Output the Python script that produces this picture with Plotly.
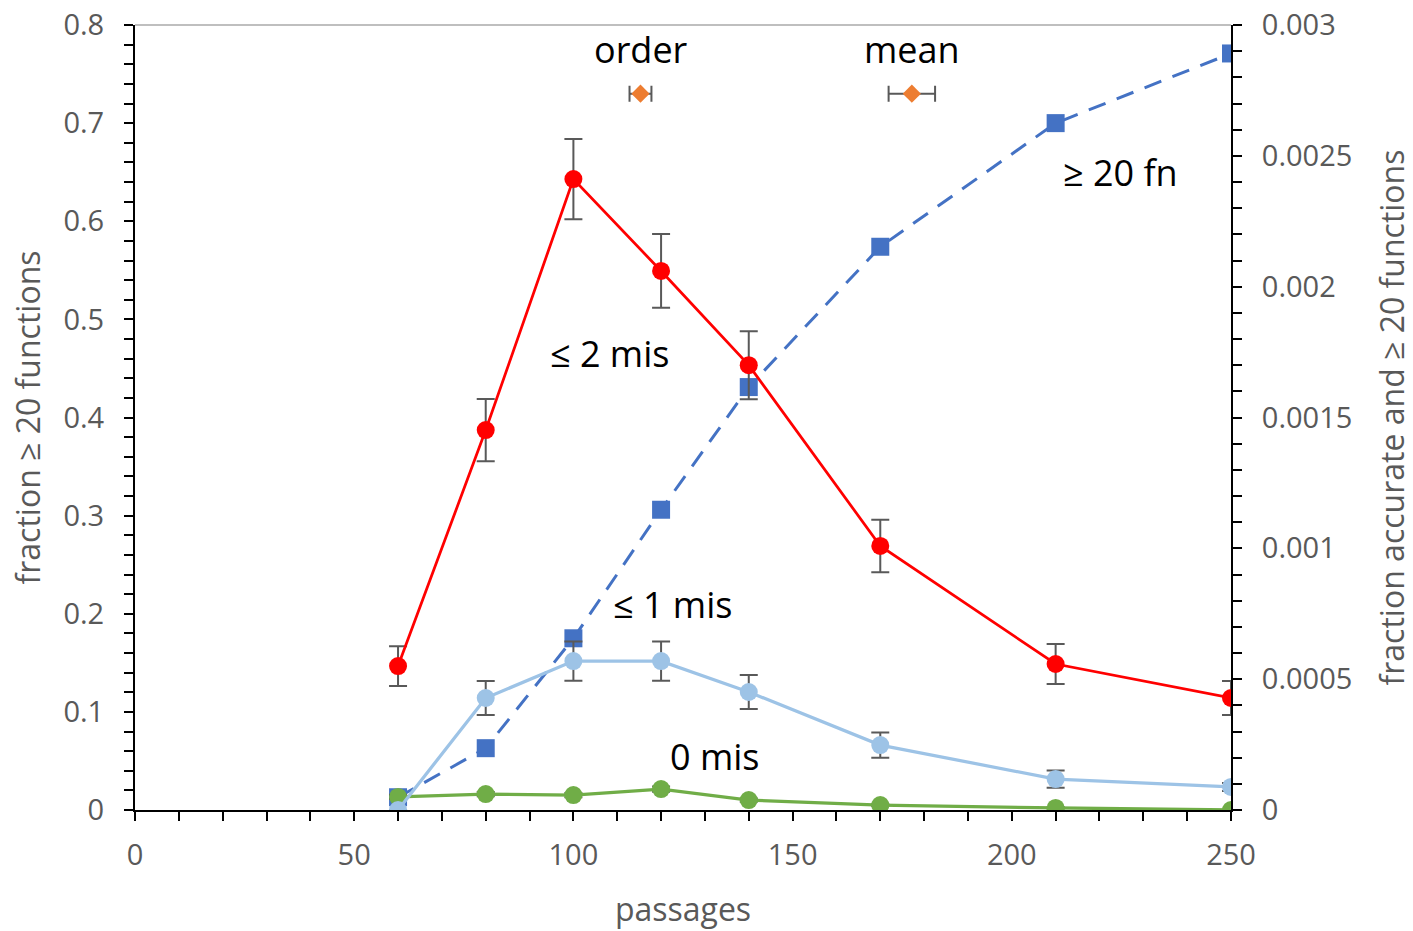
import plotly.graph_objects as go

passages = [60, 80, 100, 120, 140, 170, 210, 250]

frac_20fn = [0.013, 0.063, 0.175, 0.306, 0.431, 0.574, 0.700, 0.771]

mis2 = [0.000550, 0.001452, 0.002411, 0.002060, 0.001700, 0.001009, 0.000558, 0.000428]
mis2_err = [0.000076, 0.000119, 0.000153, 0.000141, 0.000130, 0.000100, 0.000076, 0.000065]

mis1 = [0.0, 0.000428, 0.000569, 0.000569, 0.000451, 0.000248, 0.000118, 0.000088]
mis1_err = [0.0, 0.000065, 0.000075, 0.000075, 0.000065, 0.000048, 0.000033, 0.000015]

mis0 = [0.000050, 0.000061, 0.000057, 0.000080, 0.000038, 0.000019, 0.000008, 0.0]
mis0_err = [0.000008, 0.000008, 0.000008, 0.000010, 0.000006, 0.000004, 0.000003, 0.0]

marker_x = [115.3, 177.2]
marker_y = [0.73, 0.73]
marker_xerr = [2.5, 5.3]
marker_labels = ["order", "mean"]

x_ticks = [0, 50, 100, 150, 200, 250]
y1_ticks = [0, 0.1, 0.2, 0.3, 0.4, 0.5, 0.6, 0.7, 0.8]
y1_text = ["0", "0.1", "0.2", "0.3", "0.4", "0.5", "0.6", "0.7", "0.8"]
y2_ticks = [0, 0.0005, 0.001, 0.0015, 0.002, 0.0025, 0.003]
y2_text = ["0", "0.0005", "0.001", "0.0015", "0.002", "0.0025", "0.003"]

FONT = "Open Sans"
ERRC = "#595959"

fig = go.Figure()

fig.add_trace(go.Scatter(
    x=passages, y=frac_20fn, mode="lines+markers", yaxis="y",
    line=dict(color="#4472C4", width=3, dash="18px,12px"),
    marker=dict(symbol="square", size=18, color="#4472C4"),
    showlegend=False))

fig.add_trace(go.Scatter(
    x=marker_x, y=marker_y, mode="markers", yaxis="y",
    marker=dict(symbol="diamond", size=14, color="#ED7D31"),
    error_x=dict(type="data", array=marker_xerr, color=ERRC, thickness=2, width=8),
    showlegend=False))

fig.add_trace(go.Scatter(
    x=passages, y=mis2, mode="lines+markers", yaxis="y2",
    line=dict(color="#FF0000", width=2.75),
    marker=dict(symbol="circle", size=18, color="#FF0000"),
    error_y=dict(type="data", array=mis2_err, color=ERRC, thickness=2, width=9),
    showlegend=False))

fig.add_trace(go.Scatter(
    x=passages, y=mis0, mode="lines+markers", yaxis="y2",
    line=dict(color="#70AD47", width=3.25),
    marker=dict(symbol="circle", size=18, color="#70AD47"),
    error_y=dict(type="data", array=mis0_err, color=ERRC, thickness=2, width=9),
    showlegend=False))

fig.add_trace(go.Scatter(
    x=passages, y=mis1, mode="lines+markers", yaxis="y2",
    line=dict(color="#9DC3E6", width=3.25),
    marker=dict(symbol="circle", size=18, color="#9DC3E6"),
    error_y=dict(type="data", array=mis1_err, color=ERRC, thickness=2, width=9),
    showlegend=False))

tickfont = dict(family=FONT, size=29, color="#595959")
titlefont = dict(family=FONT, size=32, color="#595959")

common = dict(ticks="outside", ticklen=9, tickwidth=2, tickcolor="black",
              showline=True, linecolor="black", linewidth=2, showgrid=False,
              zeroline=False, tickfont=tickfont, automargin=False)

fig.update_layout(
    width=1413, height=931,
    margin=dict(l=135, r=182, t=25, b=121),
    paper_bgcolor="white", plot_bgcolor="white",
    xaxis=dict(range=[0, 250], tickvals=x_ticks, ticklabelstandoff=9,
               minor=dict(dtick=10, ticks="outside", ticklen=9, tickwidth=2, tickcolor="black"),
               title=dict(text="passages", font=titlefont, standoff=27), **common),
    yaxis=dict(range=[0, 0.8], tickvals=y1_ticks, ticktext=y1_text, ticklabelstandoff=14,
               minor=dict(dtick=0.02, ticks="outside", ticklen=9, tickwidth=2, tickcolor="black"),
               title=dict(text="fraction ≥ 20 functions", font=titlefont, standoff=13), **common),
    yaxis2=dict(range=[0, 0.003], overlaying="y", side="right", tickvals=y2_ticks, ticktext=y2_text,
                ticklabelstandoff=14,
                minor=dict(dtick=0.0001, ticks="outside", ticklen=9, tickwidth=2, tickcolor="black"),
                title=dict(text="fraction accurate and ≥ 20 functions", font=titlefont, standoff=30),
                **common),
)

fig.add_shape(type="line", xref="paper", yref="paper", x0=0, x1=1, y0=1, y1=1,
              line=dict(color="#BFBFBF", width=2), layer="below")

annfont = dict(family=FONT, size=36, color="black")
texts = [("≤ 2 mis", 108.2, 0.465), ("≤ 1 mis", 122.7, 0.209),
         ("0 mis", 132.2, 0.055), ("≥ 20 fn", 224.8, 0.650),
         (marker_labels[0], 115.5, 0.775), (marker_labels[1], 177.2, 0.775)]
for t, x, y in texts:
    fig.add_annotation(x=x, y=y, xref="x", yref="y", text=t, showarrow=False, font=annfont)

fig.write_html("out.html")
